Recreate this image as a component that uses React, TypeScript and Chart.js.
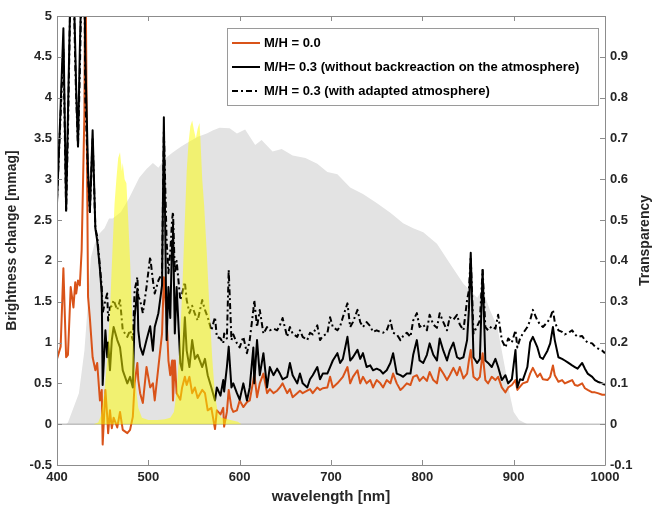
import React, { useEffect, useRef } from "react";
import { Chart, registerables } from "chart.js";

Chart.register(...registerables);

// Transparency of the atmosphere (right axis), [wavelength nm, transparency]
const transparency: [number, number][] = [
  [400, 0], [410, 0], [412, 0.004], [424, 0.076], [430, 0.18], [434, 0.3], [437, 0.408],
  [441, 0.44], [446, 0.466], [452, 0.48], [457, 0.504], [461, 0.504], [470, 0.52],
  [479, 0.554], [490, 0.604], [498, 0.625], [505, 0.64], [511, 0.628], [518, 0.65],
  [527, 0.666], [536, 0.68], [546, 0.694], [555, 0.705], [564, 0.712], [571, 0.72],
  [578, 0.726], [589, 0.725], [597, 0.712], [606, 0.722], [617, 0.684], [624, 0.696],
  [636, 0.668], [646, 0.674], [658, 0.658], [672, 0.652], [685, 0.638], [696, 0.618],
  [707, 0.612], [721, 0.58], [735, 0.564], [750, 0.542], [765, 0.518], [779, 0.492],
  [790, 0.48], [801, 0.47], [816, 0.442], [830, 0.394], [845, 0.344], [860, 0.31],
  [866, 0.33], [874, 0.28], [882, 0.24], [887, 0.18], [892, 0.12], [896, 0.07],
  [900, 0.03], [906, 0.01], [915, 0], [1000, 0],
];

// Filter transmission curves (yellow, right axis)
const filterCurves: [number, number][] = [
  [440, 0], [445, 0.004], [448, 0.02], [452, 0.08], [455, 0.16], [458, 0.28], [461, 0.44],
  [463, 0.54], [465, 0.6], [467, 0.652], [469, 0.666], [471, 0.62], [472, 0.64], [474, 0.6],
  [476, 0.59], [478, 0.5], [480, 0.4], [482, 0.28], [484, 0.18], [486, 0.1], [489, 0.04],
  [493, 0.016], [500, 0.01], [510, 0.01], [518, 0.012], [524, 0.016], [528, 0.03],
  [531, 0.08], [534, 0.18], [537, 0.32], [540, 0.5], [542, 0.62], [544, 0.69], [546, 0.73],
  [548, 0.744], [550, 0.72], [552, 0.7], [554, 0.724], [556, 0.738], [557, 0.7], [559, 0.6],
  [561, 0.54], [564, 0.42], [567, 0.28], [570, 0.16], [573, 0.07], [576, 0.03], [580, 0.016],
  [590, 0.01], [598, 0.006], [602, 0],
];

const wavelengths: number[] = [
  400, 404, 407, 410, 412, 415, 418, 420, 421, 423,
  425, 427, 430, 431, 434, 436, 439, 442, 444, 447,
  449, 450, 453, 455, 456, 458, 460, 462, 466, 469,
  472, 477, 480, 483, 485, 488, 489, 491, 494, 498,
  502, 505, 507, 511, 515, 517, 520, 522, 524, 526,
  527, 529, 531, 535, 537, 540, 542, 545, 548, 551,
  554, 559, 562, 565, 569, 573, 575, 579, 582, 583,
  586, 588, 591, 593, 597, 600, 604, 608, 611, 615,
  616, 619, 622, 626, 630, 633, 637, 641, 644, 647,
  652, 655, 658, 663, 666, 669, 674, 677, 680, 685,
  688, 691, 696, 699, 702, 707, 710, 713, 718, 721,
  724, 729, 732, 735, 739, 743, 746, 750, 754, 757,
  761, 765, 768, 772, 776, 779, 783, 787, 790, 794,
  797, 801, 805, 808, 812, 816, 819, 823, 827, 830,
  834, 838, 841, 845, 849, 851, 853, 856, 860, 863,
  866, 869, 872, 876, 880, 883, 887, 891, 894, 898,
  902, 904, 907, 910, 915, 918, 921, 926, 929, 932,
  937, 940, 943, 945, 949, 953, 956, 960, 964, 967,
  970, 975, 978, 981, 986, 989, 992, 997, 1000,
];

// M/H = 0.0
const metal00: number[] = [
  0.8, 0.95, 1.91, 0.82, 0.85, 1.68, 1.43, 1.74, 1.6, 1.76,
  1.7, 2.13, 3.8, 6.0, 1.56, 1.3, 0.82, 0.66, 0.75, 0.29,
  0.42, -0.25, 0.42, 0.09, -0.11, 0.17, -0.05, 0.08, -0.04, 0.15,
  -0.07, -0.11, -0.07, 0.09, 0.5, 0.75, 0.54, 0.38, 0.26, 0.7,
  0.45, 0.5, 0.29, 0.7, 1.11, 1.8, 1.31, 0.78, 0.6, 0.78,
  0.29, 0.78, 0.38, 0.3, 0.45, 0.58, 0.48, 0.58, 0.38, 0.45,
  0.32, 0.42, 0.38, 0.17, 0.2, -0.06, 0.17, 0.12, 0.2, -0.03,
  0.15, 0.42, 0.2, 0.15, 0.17, 0.29, 0.21, 0.27, 0.29, 0.54,
  0.62, 0.33, 0.5, 0.62, 0.38, 0.43, 0.38, 0.41, 0.45, 0.5,
  0.38, 0.43, 0.33, 0.38, 0.41, 0.38, 0.41, 0.43, 0.38, 0.45,
  0.42, 0.44, 0.45, 0.58, 0.45, 0.5, 0.54, 0.58, 0.7, 0.5,
  0.58, 0.66, 0.5, 0.58, 0.5, 0.54, 0.45, 0.54, 0.5, 0.45,
  0.54, 0.5, 0.62, 0.5, 0.42, 0.45, 0.5, 0.48, 0.58, 0.6,
  0.53, 0.58, 0.53, 0.64, 0.54, 0.5, 0.69, 0.62, 0.54, 0.6,
  0.69, 0.6, 0.7, 0.56, 0.62, 0.78, 0.91, 0.58, 0.54, 0.58,
  0.87, 0.54, 0.5, 0.58, 0.54, 0.58, 0.45, 0.39, 0.45, 0.48,
  0.54, 0.42, 0.46, 0.5, 0.52, 0.62, 0.69, 0.58, 0.62, 0.55,
  0.54, 0.58, 0.72, 0.6, 0.52, 0.54, 0.5, 0.52, 0.54, 0.48,
  0.47, 0.5, 0.44, 0.42, 0.39, 0.39, 0.38, 0.36, 0.36,
];

// M/H = 0.3 (without backreaction on the atmosphere)
const metal03: number[] = [
  2.71, 3.9, 4.85, 2.62, 3.8, 5.5, 5.5, 4.6, 4.1, 3.4,
  4.6, 5.5, 5.5, 4.5, 3.11, 2.6, 3.6, 2.4, 2.25, 1.9,
  1.6, 0.48, 1.15, 0.82, 1.0, 0.66, 1.03, 1.19, 1.03, 0.94,
  0.66, 0.5, 0.58, 0.45, 1.31, 1.66, 1.15, 0.95, 0.85, 1.03,
  1.2, 0.9, 1.19, 1.36, 1.7, 3.76, 1.03, 1.68, 1.3, 2.25,
  2.46, 1.11, 1.68, 0.75, 0.66, 1.31, 0.9, 0.7, 1.03, 0.8,
  0.85, 0.7, 0.8, 0.6, 0.45, 0.29, 0.45, 0.35, 0.54, 0.4,
  0.7, 0.95, 0.45, 0.5, 0.38, 0.3, 0.5, 0.29, 0.45, 0.94,
  0.5, 1.03, 0.6, 0.87, 0.45, 0.7, 0.6, 0.68, 0.62, 0.55,
  0.58, 0.75, 0.6, 0.5, 0.62, 0.5, 0.45, 0.55, 0.6, 0.7,
  0.55, 0.62, 0.62, 0.7, 0.78, 0.87, 0.75, 0.8, 1.07, 0.78,
  0.82, 0.91, 0.8, 0.87, 0.7, 0.72, 0.66, 0.68, 0.66, 0.62,
  0.66, 0.75, 0.87, 0.62, 0.6, 0.58, 0.62, 0.62, 0.85, 1.03,
  0.78, 0.75, 0.85, 0.99, 0.85, 0.78, 1.05, 0.9, 0.78, 0.9,
  1.0, 0.82, 0.8, 0.82, 1.03, 1.4, 2.1, 0.82, 0.75, 0.8,
  1.89, 0.78, 0.75, 0.7, 0.8, 0.7, 0.54, 0.6, 0.5, 0.55,
  0.91, 0.45, 0.55, 0.54, 0.7, 1.0, 1.07, 0.94, 0.82, 0.8,
  0.9, 0.99, 1.19, 1.03, 0.82, 0.8, 0.78, 0.75, 0.72, 0.7,
  0.68, 0.75, 0.68, 0.62, 0.58, 0.54, 0.52, 0.5, 0.48,
];

// M/H = 0.3 (with adapted atmosphere)
const metal03Adapted: number[] = [
  2.75, 3.8, 4.6, 2.6, 3.6, 5.5, 5.5, 4.4, 4.0, 3.4,
  4.3, 5.5, 5.5, 4.0, 3.05, 2.6, 3.5, 2.4, 2.3, 1.93,
  1.68, 1.36, 1.52, 1.6, 1.27, 1.43, 1.45, 1.52, 1.4, 1.52,
  1.15, 1.07, 1.15, 1.03, 1.64, 1.8, 1.56, 1.52, 1.36, 1.68,
  2.05, 1.76, 1.6, 1.76, 1.85, 3.6, 2.25, 1.85, 2.1, 2.5,
  2.6, 1.85, 2.0, 1.52, 1.6, 1.74, 1.52, 1.36, 1.45, 1.35,
  1.27, 1.52, 1.4, 1.31, 1.15, 1.31, 1.07, 1.05, 0.99, 1.11,
  1.05, 1.89, 1.03, 1.1, 0.99, 0.94, 1.07, 0.87, 1.03, 1.4,
  1.52, 1.19, 1.4, 1.11, 1.19, 1.15, 1.17, 1.15, 1.21, 1.3,
  1.07, 1.19, 1.11, 1.07, 1.15, 1.07, 1.03, 1.12, 1.1, 1.21,
  1.03, 1.08, 1.11, 1.31, 1.19, 1.15, 1.2, 1.31, 1.48, 1.19,
  1.25, 1.4, 1.25, 1.19, 1.25, 1.2, 1.13, 1.15, 1.13, 1.12,
  1.15, 1.27, 1.12, 1.1, 1.03, 1.08, 1.12, 1.07, 1.27, 1.36,
  1.19, 1.22, 1.15, 1.34, 1.22, 1.18, 1.36, 1.25, 1.15, 1.31,
  1.28, 1.34, 1.22, 1.15, 1.52, 1.64, 2.05, 1.11, 1.2, 1.27,
  1.89, 1.19, 1.15, 1.2, 1.17, 1.34, 1.03, 0.94, 1.05, 1.0,
  1.15, 0.94, 1.05, 1.11, 1.19, 1.27, 1.4, 1.27, 1.22, 1.19,
  1.25, 1.3, 1.4, 1.25, 1.15, 1.13, 1.1, 1.12, 1.15, 1.1,
  1.07, 1.08, 1.03, 1.0, 0.99, 0.95, 0.93, 0.9, 0.87,
];

const legendLabels = [
  "M/H = 0.0",
  "M/H= 0.3 (without backreaction on the atmosphere)",
  "M/H = 0.3 (with adapted atmosphere)",
];

const FONT = "'Liberation Sans', Arial, Helvetica, sans-serif";
const ORANGE = "#D95319";
const AXIS_GRAY = "#8c8c8c";
const TEXT = "#262626";

const pairs = (p: [number, number][]) => p.map(([x, y]) => ({ x, y }));
const series = (ys: number[]) => wavelengths.map((x, i) => ({ x, y: ys[i] }));

const fmt = (v: number) => String(Math.round(v * 10) / 10);

const framePlugin = {
  id: "frameTicks",
  afterDatasetsDraw(chart: any) {
    const { ctx, chartArea, scales } = chart;
    const { left, right, top, bottom } = chartArea;
    const tl = 5;
    ctx.save();
    ctx.strokeStyle = AXIS_GRAY;
    ctx.lineWidth = 1;
    ctx.beginPath();
    ctx.rect(Math.round(left) + 0.5, Math.round(top) + 0.5, Math.round(right - left), Math.round(bottom - top));
    ctx.stroke();
    ctx.beginPath();
    scales.x.ticks.forEach((t: any) => {
      const px = Math.round(scales.x.getPixelForValue(t.value)) + 0.5;
      ctx.moveTo(px, bottom);
      ctx.lineTo(px, bottom - tl);
      ctx.moveTo(px, top);
      ctx.lineTo(px, top + tl);
    });
    scales.y.ticks.forEach((t: any) => {
      const py = Math.round(scales.y.getPixelForValue(t.value)) + 0.5;
      ctx.moveTo(left, py);
      ctx.lineTo(left + tl, py);
    });
    scales.y1.ticks.forEach((t: any) => {
      const py = Math.round(scales.y1.getPixelForValue(t.value)) + 0.5;
      ctx.moveTo(right, py);
      ctx.lineTo(right - tl, py);
    });
    ctx.stroke();
    ctx.restore();
  },
  afterDraw(chart: any) {
    const { ctx, chartArea } = chart;
    const { right, top, bottom } = chartArea;
    // right axis title, reading bottom to top
    ctx.save();
    ctx.fillStyle = TEXT;
    ctx.font = `bold 14px ${FONT}`;
    ctx.textAlign = "center";
    ctx.textBaseline = "middle";
    ctx.translate(chart.width - 8, (top + bottom) / 2);
    ctx.rotate(-Math.PI / 2);
    ctx.fillText("Transparency", 0, 0);
    ctx.restore();

    // legend box
    const bx = right - 378;
    const by = top + 12;
    const bw = 371;
    const bh = 77;
    ctx.save();
    ctx.fillStyle = "#ffffff";
    ctx.fillRect(bx, by, bw, bh);
    ctx.strokeStyle = "#9a9a9a";
    ctx.lineWidth = 1;
    ctx.strokeRect(Math.round(bx) + 0.5, Math.round(by) + 0.5, bw, bh);
    const ds = chart.data.datasets;
    const items = [ds[2], ds[3], ds[4]];
    items.forEach((d: any, i: number) => {
      const cy = by + 15 + i * 24;
      ctx.strokeStyle = d.borderColor;
      ctx.lineWidth = d.borderWidth;
      ctx.setLineDash(d.borderDash || []);
      ctx.beginPath();
      ctx.moveTo(bx + 5, cy);
      ctx.lineTo(bx + 33, cy);
      ctx.stroke();
      ctx.setLineDash([]);
      ctx.fillStyle = "#000000";
      ctx.font = `bold 13px ${FONT}`;
      ctx.textAlign = "left";
      ctx.textBaseline = "middle";
      ctx.fillText(legendLabels[i], bx + 37, cy);
    });
    ctx.restore();
  },
};

export default function App() {
  const ref = useRef<HTMLCanvasElement>(null);
  useEffect(() => {
    document.body.style.margin = "0";
    const canvas = ref.current;
    if (!canvas) return;
    const chart = new Chart(canvas, {
      type: "line",
      data: {
        datasets: [
          {
            label: "Transparency",
            data: pairs(transparency),
            yAxisID: "y1",
            fill: "origin",
            backgroundColor: "#e3e3e3",
            borderWidth: 0,
            borderColor: "rgba(0,0,0,0)",
            pointRadius: 0,
            order: 10,
            clip: 0,
          },
          {
            label: "zero",
            data: [
              { x: 400, y: 0 },
              { x: 1000, y: 0 },
            ],
            yAxisID: "y",
            borderColor: "#a6a6a6",
            borderWidth: 1,
            pointRadius: 0,
            fill: false,
            order: 9,
            clip: 0,
          },
          {
            label: legendLabels[0],
            data: series(metal00),
            yAxisID: "y",
            borderColor: ORANGE,
            borderWidth: 2,
            pointRadius: 0,
            fill: false,
            order: 6,
            clip: 0,
          },
          {
            label: legendLabels[1],
            data: series(metal03),
            yAxisID: "y",
            borderColor: "#000000",
            borderWidth: 2,
            pointRadius: 0,
            fill: false,
            order: 5,
            clip: 0,
          },
          {
            label: legendLabels[2],
            data: series(metal03Adapted),
            yAxisID: "y",
            borderColor: "#000000",
            borderWidth: 2,
            borderDash: [6, 3, 2, 3],
            pointRadius: 0,
            fill: false,
            order: 4,
            clip: 0,
          },
          {
            label: "Filters",
            data: pairs(filterCurves),
            yAxisID: "y1",
            fill: "origin",
            backgroundColor: "rgba(255,255,0,0.5)",
            borderWidth: 0,
            borderColor: "rgba(0,0,0,0)",
            pointRadius: 0,
            order: 1,
            clip: 0,
          },
        ],
      },
      options: {
        responsive: false,
        maintainAspectRatio: false,
        animation: false,
        layout: { padding: { top: 16, left: 0, right: 0, bottom: 0 } },
        elements: { line: { tension: 0, borderJoinStyle: "round" }, point: { radius: 0 } },
        plugins: { legend: { display: false }, tooltip: { enabled: false } },
        scales: {
          x: {
            type: "linear",
            position: "bottom",
            min: 400,
            max: 1000,
            ticks: {
              stepSize: 100,
              padding: 5,
              color: TEXT,
              font: { family: FONT, size: 13, weight: "bold" },
              maxRotation: 0,
              callback: (v: any) => String(Math.round(Number(v))),
            },
            grid: { display: false, drawTicks: false },
            border: { display: false },
            title: {
              display: true,
              text: "wavelength [nm]",
              color: TEXT,
              font: { family: FONT, size: 15, weight: "bold" },
              padding: { top: 0, bottom: 0 },
            },
            afterFit: (s: any) => {
              s.height = 41;
            },
          },
          y: {
            type: "linear",
            position: "left",
            min: -0.5,
            max: 5,
            ticks: {
              stepSize: 0.5,
              padding: 5,
              color: TEXT,
              font: { family: FONT, size: 13, weight: "bold" },
              callback: (v: any) => fmt(Number(v)),
            },
            grid: { display: false, drawTicks: false },
            border: { display: false },
            title: {
              display: true,
              text: "Brightness change [mmag]",
              color: TEXT,
              font: { family: FONT, size: 14, weight: "bold" },
              padding: { top: 4, bottom: 0 },
            },
            afterFit: (s: any) => {
              s.width = 57;
            },
          },
          y1: {
            type: "linear",
            position: "right",
            min: -0.1,
            max: 1,
            ticks: {
              stepSize: 0.1,
              padding: 5,
              color: TEXT,
              font: { family: FONT, size: 13, weight: "bold" },
              callback: (v: any) => (Number(v) > 0.95 ? "" : fmt(Number(v))),
            },
            grid: { display: false, drawTicks: false },
            border: { display: false },
            title: { display: false },
            afterFit: (s: any) => {
              s.width = 48;
            },
          },
        },
      },
      plugins: [framePlugin],
    } as any);
    return () => chart.destroy();
  }, []);
  return (
    <div style={{ width: 653, height: 506 }}>
      <canvas ref={ref} width={653} height={506} style={{ display: "block" }} />
    </div>
  );
}
